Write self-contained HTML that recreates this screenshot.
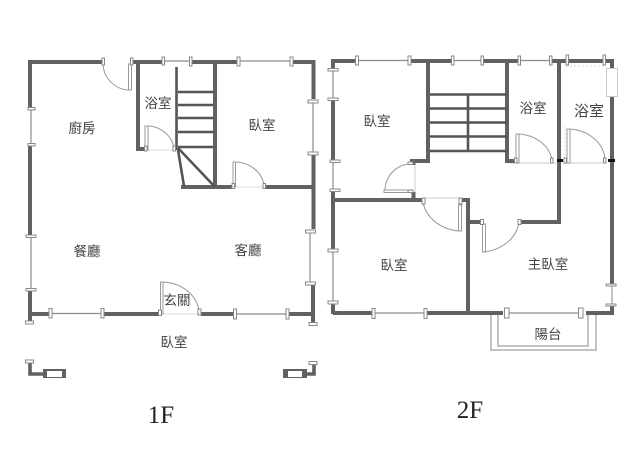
<!DOCTYPE html>
<html><head><meta charset="utf-8">
<style>
html,body{margin:0;padding:0;background:#fff;width:640px;height:461px;overflow:hidden}
svg{display:block;position:absolute;left:0;top:0;filter:blur(.3px)}
.w{fill:none;stroke:#616161;stroke-width:4;stroke-linecap:butt;stroke-linejoin:miter}
.s{fill:none;stroke:#555;stroke-width:2.6}
.t{fill:none;stroke:#8c8c8c;stroke-width:1.2}
.a{fill:none;stroke:#999;stroke-width:1}
.l{fill:none;stroke:#bbb;stroke-width:1.8}
.k rect{fill:#fff;stroke:#888;stroke-width:1}
.d{fill:#fff;stroke:#999;stroke-width:1}
text{font-family:"Liberation Sans","Noto Sans CJK TC",sans-serif;font-size:13.5px;fill:#444;text-anchor:middle}
.f{font-family:"Liberation Serif",serif;font-size:25px;fill:#222}
</style></head><body>
<svg width="640" height="461" viewBox="0 0 640 461" xmlns="http://www.w3.org/2000/svg">
<!-- 1F thin windows -->
<path class="t" d="M31 108V144M31 236V289M163 61H190M238 61H291M313 101V153M50 313.500H102M235 314H287M310 231V283"/>
<path class="a" d="M163 314H199M148 150H174M235 187H264" style="stroke:#ddd"/>
<!-- 1F walls -->
<path class="w" d="M102 62H30V108M30 145V236M132 62H163M138 62V149H145M190 62H237M291 62H313.500V99M313.500 154V229M313 283V322M30 290V322M30 314H49M103 314H159M201 314H234M288 314H313M215 62V187M181 187H233M266 187H314"/>
<path class="w" d="M30 362V374H43M314 365V374H307" style="stroke-width:3.600"/>
<path class="s" d="M176.500 67V150M178 92H214M178 105H214M178 118H214M178 132H214M178 147H214M178 150L184 186M178 148L215 187"/>
<rect x="43" y="369" width="23" height="9" fill="#616161"/><rect x="47" y="371" width="15" height="6" fill="#fff"/>
<rect x="283" y="369" width="24" height="9" fill="#616161"/><rect x="288" y="371" width="14" height="6" fill="#fff"/>
<!-- 1F doors -->
<rect class="d" x="128.500" y="64" width="3" height="26"/>
<rect class="d" x="145" y="126" width="3" height="24"/>
<rect class="d" x="233" y="162" width="2.500" height="25"/>
<rect class="d" x="160.500" y="282" width="2.500" height="32"/>
<path class="a" d="M103 64A27 27 0 0 0 130 90M147 126A27 26 0 0 1 174 149M235 162A30 26 0 0 1 264 186M162 282A38 32 0 0 1 199 312"/>
<!-- 1F ticks -->
<g class="k">
<rect x="102" y="58" width="2.500" height="7"/><rect x="130.500" y="58" width="2.500" height="7"/>
<rect x="162" y="57" width="2.500" height="8"/><rect x="189.500" y="57" width="2.500" height="9"/>
<rect x="237" y="57" width="3" height="9"/><rect x="290" y="57" width="3" height="9"/>
<rect x="28" y="107.500" width="7" height="2.500"/><rect x="28" y="143.500" width="7" height="2.500"/>
<rect x="308" y="100" width="10" height="3"/><rect x="308" y="152" width="10" height="3"/>
<rect x="26" y="288.500" width="10" height="2.500"/><rect x="25.500" y="321" width="8" height="3"/>
<rect x="26" y="235" width="10" height="2.500"/>
<rect x="305.500" y="230" width="10" height="3"/><rect x="305.500" y="282" width="10" height="3"/>
<rect x="309" y="322.500" width="8" height="3"/><rect x="25.500" y="360" width="8" height="3"/><rect x="309" y="361.500" width="8" height="3"/>
<rect x="49" y="308.500" width="3" height="9.500"/><rect x="101" y="308.500" width="3" height="9.500"/>
<rect x="233.500" y="309" width="3" height="10"/><rect x="286" y="309" width="3" height="10"/>
<rect x="158.500" y="310" width="3" height="5.500"/><rect x="198" y="309" width="3" height="6"/>
<rect x="144.500" y="146" width="2.500" height="5"/><rect x="173" y="146" width="2.500" height="5"/>
<rect x="232" y="183.500" width="2.500" height="5"/><rect x="263" y="183.500" width="2.500" height="5"/>
</g>
<!-- 2F thin windows -->
<path class="t" d="M357 60.500H409M453 60.500H482M519 60.500H551M333 70V99M333 161V190M333 250V302M373 313H425M507 313H580"/>
<path class="l" d="M567 60.500H604M612 285V305"/>
<path class="a" d="M415 163V197M423 198H460M557 163H509M604 163H569" style="stroke:#ccc"/>
<path d="M566 66H606M565 125V163" fill="none" stroke="#ddd" stroke-dasharray="2 2"/>
<!-- 2F walls -->
<path class="w" d="M333 61H357M333 59V70M333 99V160M333 190V250M333 302V314M333 200H423M409 61H453M428 61V161H410M413.500 159V165M413.500 192V200M482 61H519M507 61V161H514M550 61H604M559 61V224M604 61H612V68M612 97V285M612 305V315M521 222H559M468 198V311M468 222H481M333 313H372M426 313H503M586 313H614M461 200H470M468 313H503"/>
<path class="s" d="M430 94.500H507M430 108.500H507M430 122.500H507M430 136.500H507M430 151H507M468 94V151"/>
<rect x="557" y="159" width="6" height="3" fill="#111"/>
<rect x="608" y="159" width="7" height="3" fill="#111"/>
<!-- Balcony -->
<path class="l" d="M491 315V350H596V315M498 315V346H588V315"/>
<!-- 2F doors -->
<rect class="d" x="384" y="190" width="24" height="2.500"/>
<rect class="d" x="458.500" y="205" width="3" height="26"/>
<rect class="d" x="482.500" y="224" width="3" height="28"/>
<rect class="d" x="516" y="134" width="3" height="29"/>
<rect class="d" x="567" y="129" width="3" height="34"/>
<rect class="d" x="606.500" y="68.500" width="11" height="28" style="stroke:#ccc"/>
<path class="a" d="M385 190A26 27 0 0 1 410 164M423 202A40 34 0 0 0 460 231M483 252A40 34 0 0 0 519 222M518 134A36 30 0 0 1 552 160M569 129A38 32 0 0 1 605 160"/>
<!-- 2F ticks -->
<g class="k">
<rect x="355.500" y="56" width="3" height="9"/><rect x="408" y="56" width="3" height="9"/>
<rect x="451.500" y="56" width="2.500" height="9"/><rect x="481" y="56" width="2.500" height="9"/>
<rect x="518" y="56" width="2.500" height="9"/><rect x="549.500" y="56" width="2.500" height="9"/>
<rect x="566" y="55" width="2.500" height="10"/><rect x="603" y="55" width="2.500" height="10"/>
<rect x="328" y="68.500" width="10" height="2.500"/><rect x="328" y="98" width="10" height="2.500"/>
<rect x="330" y="160" width="10" height="2.500"/><rect x="330" y="189" width="10" height="2.500"/>
<rect x="328" y="249" width="10" height="3"/><rect x="328" y="301" width="10" height="3"/>
<rect x="372" y="308.500" width="3" height="10"/><rect x="424" y="308.500" width="3" height="10"/>
<rect x="504.500" y="308" width="4.500" height="10"/><rect x="578.500" y="308" width="4.500" height="10"/>
<rect x="606" y="284" width="10" height="2"/><rect x="606" y="304" width="10" height="2"/>
<rect x="422" y="198" width="3" height="6"/><rect x="459" y="198" width="3" height="6"/>
<rect x="480.500" y="219.500" width="3" height="5"/><rect x="518" y="219.500" width="3" height="5"/>
<rect x="514.500" y="158" width="2.500" height="5"/><rect x="550.500" y="158" width="2.500" height="5"/>
<rect x="564" y="158" width="2.500" height="5"/><rect x="603.500" y="158" width="2.500" height="5"/>
<rect x="408" y="162" width="5" height="2.500"/><rect x="408" y="190" width="5" height="2.500"/>
</g>
<!-- Labels -->
<text x="82" y="133">廚房</text>
<text x="158" y="108">浴室</text>
<text x="262" y="130">臥室</text>
<text x="87" y="256">餐廳</text>
<text x="248" y="255">客廳</text>
<text x="177" y="305">玄關</text>
<text x="174" y="347">臥室</text>
<text x="377" y="126">臥室</text>
<text x="533" y="113">浴室</text>
<text x="589" y="116" style="font-size:15px">浴室</text>
<text x="394" y="270">臥室</text>
<text x="548" y="269">主臥室</text>
<text x="548" y="339">陽台</text>
<text class="f" x="161" y="423">1F</text>
<text class="f" x="470" y="418">2F</text>
</svg>
</body></html>
